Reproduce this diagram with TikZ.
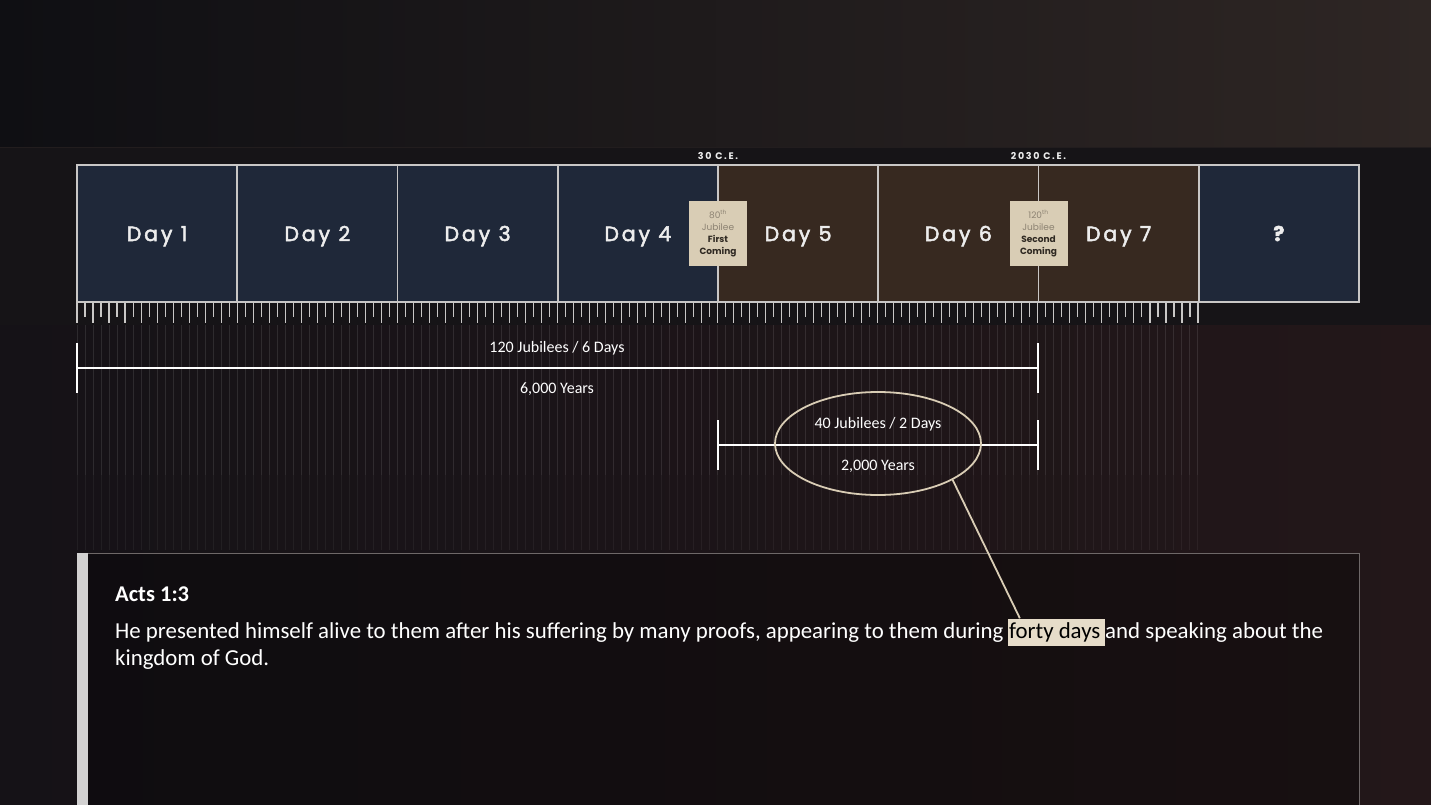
\documentclass[tikz,border=0pt]{standalone}
\usepackage{fontspec}
\setmainfont{Carlito}
\newfontfamily\dayfont[LetterSpace=14,FakeBold=2.5]{Poppins}
\newfontfamily\capsfont[LetterSpace=18]{Poppins}
\newfontfamily\jubfont{Poppins}
\usetikzlibrary{positioning,shapes.geometric}
\definecolor{bgtopl}{HTML}{0f0f13}
\definecolor{bgtopm}{HTML}{161417}
\definecolor{bgtopr}{HTML}{2e2624}
\definecolor{bandfill}{HTML}{161417}
\definecolor{bglowl}{HTML}{151217}
\definecolor{bglowr}{HTML}{231719}
\definecolor{navyfill}{HTML}{1f2839}
\definecolor{brownfill}{HTML}{372920}
\definecolor{boxline}{HTML}{c9c7c6}
\definecolor{daytext}{HTML}{ededed}
\definecolor{tan}{HTML}{d9cdb5}
\definecolor{jubgray}{HTML}{8d8373}
\definecolor{jubdark}{HTML}{2f2922}
\definecolor{highlight}{HTML}{e6dcc9}
\definecolor{panelline}{HTML}{6e6868}
\definecolor{sidebar}{HTML}{d2d1d1}
\begin{document}
\begin{tikzpicture}[x=1pt,y=-1pt,
		daybox/.style={draw=boxline,line width=1.6pt,minimum width=160.25pt,minimum height=137pt,
			inner sep=0pt,outer sep=0pt,text height=15pt,text depth=0pt,text=daytext,
			font=\dayfont\fontsize{20.5}{24}\selectfont},
		navyday/.style={daybox,fill=navyfill},
		brownday/.style={daybox,fill=brownfill},
		jubilee/.style={fill=tan,minimum width=58pt,minimum height=65pt,inner sep=0pt,align=center,
			text=jubgray,font=\jubfont\fontsize{9}{12.2}\selectfont},
		yearlabel/.style={inner sep=0pt,text=daytext,font=\capsfont\bfseries\fontsize{9.5}{11}\selectfont},
		tick/.style={draw=boxline,line width=1.1pt},
		span/.style={draw=white,line width=2.4pt},
		spanlabel/.style={text=white,font=\fontsize{16}{18}\selectfont},
		callout/.style={draw=tan,line width=1.8pt},
		verse/.style={inner sep=0pt,text=white,font=\fontsize{22.85}{27}\selectfont}]
	\clip (0,0) rectangle (1431,805);

	% background
	\shade[left color=bgtopl,middle color=bgtopm,right color=bgtopr] (0,0) rectangle (1431,148);
	\fill[bandfill] (0,148) rectangle (1431,325);
	\draw[bgtopr!50!bandfill,line width=1pt] (0,148) -- (1431,148);
	\shade[left color=bglowl,right color=bglowr] (0,325) rectangle (1431,805);

	% days
	\node[navyday] (d1) at (157.125,233.5) {Day 1};
	\node[navyday,right=0pt of d1] (d2) {Day 2};
	\node[navyday,right=0pt of d2] (d3) {Day 3};
	\node[navyday,right=0pt of d3] (d4) {Day 4};
	\node[brownday,right=0pt of d4] (d5) {Day 5};
	\node[brownday,right=0pt of d5] (d6) {Day 6};
	\node[brownday,right=0pt of d6] (d7) {Day 7};
	\node[navyday,right=0pt of d7] (d8) {\bfseries ?};

	% ticks
	\foreach \i in {0,...,140}{
		\pgfmathsetmacro\len{ifthenelse(mod(\i,2)==0,21,15)}
		\draw[tick] (77+8.007*\i,302) -- ++(0,\len);
		\draw[white,opacity=0.1,line width=1pt] (77+8.007*\i,325) -- ++(0,150);
		\draw[white,opacity=0.05,line width=1pt] (77+8.007*\i,475) -- ++(0,75);
	}

	% jubilees
	\node[jubilee] (j80) at (d4.east) {80\textsuperscript{th}\\Jubilee\\
		\textcolor{jubdark}{\bfseries First}\\\textcolor{jubdark}{\bfseries Coming}};
	\node[jubilee] (j120) at (d6.east) {120\textsuperscript{th}\\Jubilee\\
		\textcolor{jubdark}{\bfseries Second}\\\textcolor{jubdark}{\bfseries Coming}};
	\node[yearlabel,above=5pt of d4.north east] (y30) {30 C.E.};
	\node[yearlabel,above=5pt of d6.north east] (y2030) {2030 C.E.};

	% spans
	\coordinate (s1l) at (77,368);
	\coordinate (s1r) at (1038,368);
	\draw[span] (s1l) -- (s1r);
	\draw[span] ([yshift=25pt]s1l) -- ([yshift=-25pt]s1l);
	\draw[span] ([yshift=25pt]s1r) -- ([yshift=-25pt]s1r);
	\node[spanlabel] (t120) at (557,348) {120 Jubilees / 6 Days};
	\node[spanlabel] (t6000) at (557,389) {6,000 Years};

	\coordinate (s2l) at (718,445);
	\coordinate (s2r) at (1038,445);
	\draw[span] (s2l) -- (s2r);
	\draw[span] ([yshift=25pt]s2l) -- ([yshift=-25pt]s2l);
	\draw[span] ([yshift=25pt]s2r) -- ([yshift=-25pt]s2r);
	\node[ellipse,draw=tan,line width=1.8pt,minimum width=206pt,minimum height=103pt,inner sep=0pt]
		(ring) at (878,443.5) {};
	\node[spanlabel] (t40) at (878,424) {40 Jubilees / 2 Days};
	\node[spanlabel] (t2000) at (878,466) {2,000 Years};

	% verse panel
	\fill[black,opacity=0.3] (77,553) rectangle (1359,810);
	\draw[panelline,line width=1pt] (77,553) -- (1359,553) -- (1359,810);
	\fill[sidebar] (77,553) rectangle (88,810);
	\node[verse,anchor=base west,font=\bfseries\fontsize{22.5}{26}\selectfont] (ref) at (115,601) {Acts 1:3};
	\node[verse,anchor=base west] (l1a) at (115,638)
		{He presented himself alive to them after his suffering by many proofs, appearing to them during};
	\node[verse,anchor=base west,fill=highlight,text=black,text height=17pt,text depth=5pt,inner ysep=2.5pt]
		(forty) at ([xshift=4.2pt]l1a.base east) {\kern1pt forty days\kern4.5pt};
	\node[verse,anchor=base west] (l1b) at (forty.base east) {and speaking about the};
	\node[verse,anchor=base west] (l2) at (115,665) {kingdom of God.};

	% connection
	\draw[callout] (ring.-26) -- ([xshift=12pt]forty.north west);
\end{tikzpicture}
\end{document}
